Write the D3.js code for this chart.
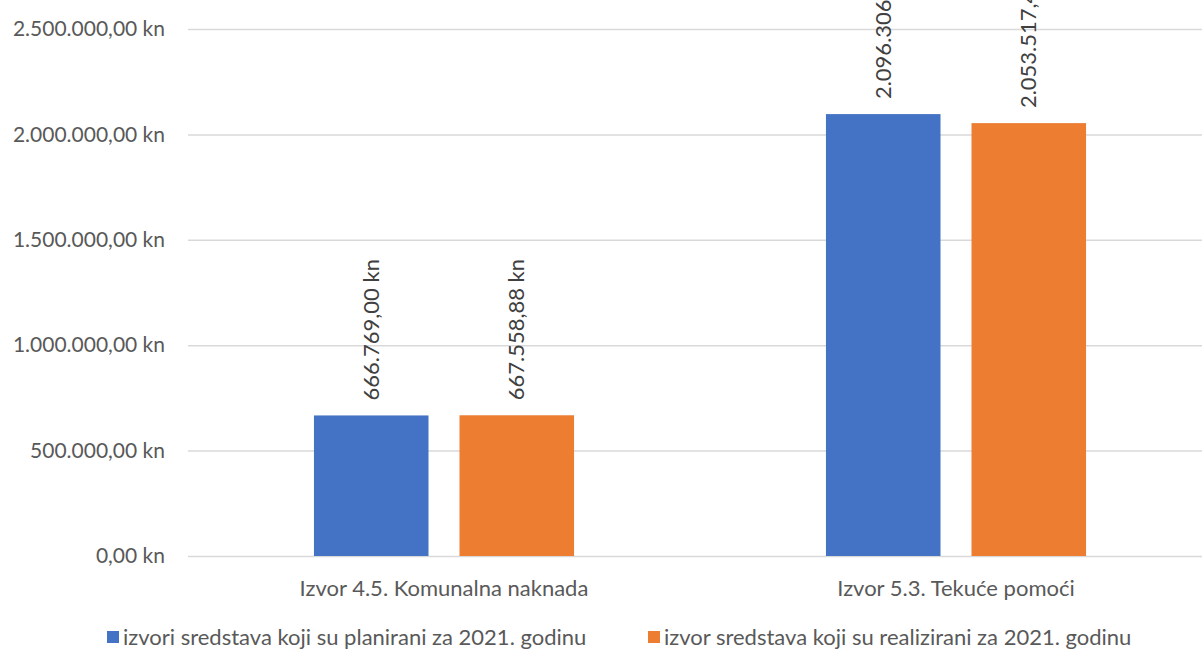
<!DOCTYPE html>
<html>
<head>
<meta charset="utf-8">
<script src="https://cdn.jsdelivr.net/npm/d3@7"></script>
<style>
  body { margin: 0; background: #fff; }
  svg { display: block; font-family: Lato, "Noto Sans", sans-serif; }
</style>
</head>
<body>
<svg id="drawing_region"></svg>
<script>
const categories = ['Izvor 4.5. Komunalna naknada', 'Izvor 5.3. Tekuće pomoći'];
const seriesNames = [
    'izvori sredstava koji su planirani za 2021. godinu',
    'izvor sredstava koji su realizirani za 2021. godinu'
];
const planned = [666769.00, 2096306.00];
const realized = [667558.88, 2053517.45];
const yTicks = [0, 500000, 1000000, 1500000, 2000000, 2500000];
const colors = ['#4472c4', '#ed7d31'];

const config = {
    width: 1202,
    height: 653,
    plotLeft: 188,
    plotRight: 1212,
    plotTop: 29,
    plotBottom: 556
};

const locale = d3.formatLocale({ decimal: ',', thousands: '.', grouping: [3], currency: ['', ' kn'] });
const fmt = v => locale.format(',.2f')(v) + ' kn';

const svg = d3.select('#drawing_region')
    .attr('width', config.width)
    .attr('height', config.height);

const x0 = d3.scaleBand()
    .domain(categories)
    .range([config.plotLeft, config.plotRight])
    .paddingInner(0.492)
    .paddingOuter(0.246);

const x1 = d3.scaleBand()
    .domain([0, 1])
    .range([0, x0.bandwidth()])
    .paddingInner(0.213);

const yscale = d3.scaleLinear()
    .domain([0, 2500000])
    .range([config.plotBottom, config.plotTop]);

// gridlines + y labels
const yaxis = d3.axisLeft(yscale)
    .tickValues(yTicks)
    .tickSize(-(config.plotRight - config.plotLeft))
    .tickPadding(23)
    .tickFormat(fmt);

const yg = svg.append('g')
    .attr('transform', `translate(${config.plotLeft}, 0)`)
    .call(yaxis);
yg.select('.domain').remove();
yg.selectAll('line').attr('stroke', '#d9d9d9').attr('stroke-width', 1.5);
yg.selectAll('text')
    .attr('fill', '#595959')
    .attr('font-size', 21)
    .attr('font-family', 'Lato, "Noto Sans", sans-serif');

const data = categories.map((c, i) => ({ cat: c, values: [planned[i], realized[i]] }));

const groups = svg.selectAll('.grp')
    .data(data)
    .enter()
    .append('g')
    .attr('transform', d => `translate(${x0(d.cat)}, 0)`);

const bars = groups.selectAll('g.bar')
    .data(d => d.values.map((v, k) => ({ k: k, v: v })))
    .enter()
    .append('g');

bars.append('rect')
    .attr('x', d => x1(d.k))
    .attr('y', d => yscale(d.v))
    .attr('width', x1.bandwidth())
    .attr('height', d => yscale(0) - yscale(d.v))
    .attr('fill', d => colors[d.k]);

bars.append('text')
    .attr('transform', d => `translate(${x1(d.k) + x1.bandwidth() / 2}, ${yscale(d.v) - 15}) rotate(-90)`)
    .attr('dy', '0.35em')
    .attr('text-anchor', 'start')
    .attr('fill', '#404040')
    .attr('font-size', 22)
    .text(d => fmt(d.v));

// category labels
svg.append('g')
    .selectAll('text')
    .data(categories)
    .enter()
    .append('text')
    .attr('x', d => x0(d) + x0.bandwidth() / 2)
    .attr('y', 596)
    .attr('text-anchor', 'middle')
    .attr('fill', '#595959')
    .attr('font-size', 22)
    .text(d => d);

// legend
const legendX = [107, 648];
const legend = svg.append('g')
    .selectAll('g')
    .data(seriesNames)
    .enter()
    .append('g')
    .attr('transform', (d, i) => `translate(${legendX[i]}, 637)`);

legend.append('rect')
    .attr('x', 0)
    .attr('y', -6)
    .attr('width', 12)
    .attr('height', 12)
    .attr('fill', (d, i) => colors[i]);

legend.append('text')
    .attr('x', 16)
    .attr('dy', '0.35em')
    .attr('fill', '#595959')
    .attr('font-size', 22)
    .text(d => d);
</script>
</body>
</html>
